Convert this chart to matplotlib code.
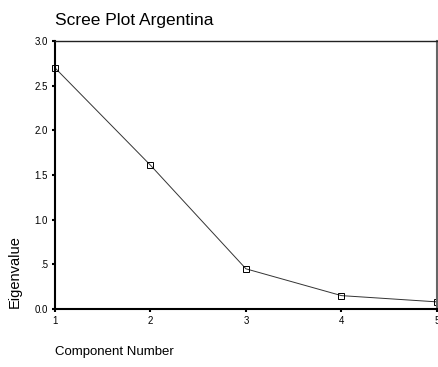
import matplotlib
matplotlib.use('Agg')
import matplotlib.pyplot as plt

plt.rcParams['font.family'] = ['Liberation Sans', 'DejaVu Sans']

components = [1, 2, 3, 4, 5]
eigenvalues = [2.70, 1.61, 0.45, 0.15, 0.08]
y_ticks = [0.0, 0.5, 1.0, 1.5, 2.0, 2.5, 3.0]
y_tick_labels = ['0.0', '.5', '1.0', '1.5', '2.0', '2.5', '3.0']

fig = plt.figure(figsize=(4.39, 3.67), dpi=100)
ax = fig.add_axes([0.1253, 0.158, 0.870, 0.730])

ax.plot(components, eigenvalues, color='#333333', linewidth=0.7,
        marker='s', markersize=5, markerfacecolor='none',
        markeredgecolor='black', markeredgewidth=0.7, clip_on=False)

ax.set_xlim(1, 5)
ax.set_ylim(0, 3.0)
ax.set_xticks(components)
ax.set_yticks(y_ticks)
ax.set_yticklabels(y_tick_labels)
ax.tick_params(axis='both', labelsize=7, length=2, width=1.5, direction='out', pad=3)

for side in ['left', 'bottom']:
    ax.spines[side].set_linewidth(1.5)
    ax.spines[side].set_color('black')
ax.spines['top'].set_linewidth(1.0)
ax.spines['top'].set_color('#222222')
ax.spines['right'].set_linewidth(1.5)
ax.spines['right'].set_color('#666666')

fig.text(0.1253, 0.945, 'Scree Plot Argentina', fontsize=12.5, ha='left', va='center')
fig.text(0.1253, 0.04, 'Component Number', fontsize=9.5, ha='left', va='center')
fig.text(0.034, 0.16, 'Eigenvalue', fontsize=10.5, rotation=90, ha='center', va='bottom')

fig.savefig('out.png', dpi=100)
